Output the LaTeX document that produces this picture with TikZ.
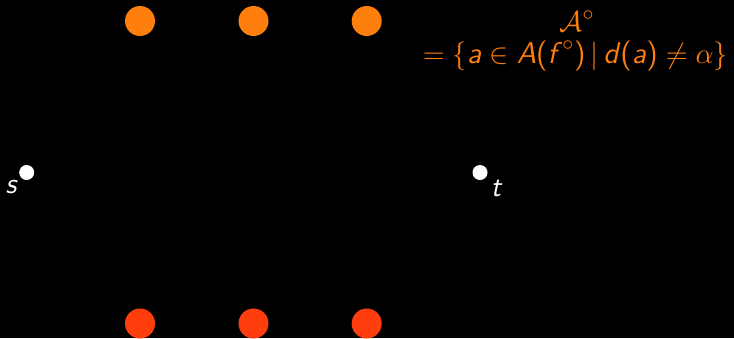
\documentclass[tikz,border=0pt]{standalone}
\usepackage{amsmath}
\definecolor{dotorange}{HTML}{FF7F0E}
\definecolor{dotred}{HTML}{FF3D0D}
\newcommand\vi[1]{\text{\sffamily\itshape #1\/}}
\newcommand\vu[1]{\text{\sffamily #1}}
\tikzset{
  px/.style={x=0.5pt,y=-0.5pt},
  bigdot/.style={circle,inner sep=0pt,minimum size=15pt},
  smalldot/.style={circle,inner sep=0pt,minimum size=7.5pt,fill=white},
  lbl/.style={text=white,inner sep=0pt,font=\fontsize{14.4}{17}\selectfont\sffamily\itshape},
  settext/.style={text=dotorange,anchor=base,inner sep=0pt,font=\fontsize{15}{18}\selectfont}
}
\begin{document}
\begin{tikzpicture}[px]
\fill[black] (0,0) rectangle (734,338);
\useasboundingbox (0,0) rectangle (734,338);
\node[bigdot,fill=dotorange] (o1) at (140,21) {};
\node[bigdot,fill=dotorange] (o2) at (253.5,21) {};
\node[bigdot,fill=dotorange] (o3) at (366.7,21) {};
\node[bigdot,fill=dotred] (r1) at (140,323.5) {};
\node[bigdot,fill=dotred] (r2) at (253.5,323.5) {};
\node[bigdot,fill=dotred] (r3) at (366.7,323.5) {};
\node[smalldot] (s) at (26.7,172.5) {};
\node[smalldot] (t) at (480,172.5) {};
\node[lbl,anchor=base] (sl) at (11,193) {s};
\node[lbl,anchor=base] (tl) at (496,196.5) {t};
\node[settext] (set1) at (577,31) {$\mathcal{A}^{\circ}$};
\node[settext] (set2) at (575.5,63)
  {$=\{\vi{a}\in\vi{A}\vu{(}\vi{f}^{\circ}\vu{)}\,|\,\vi{d}\vu{(}\vi{a}\vu{)}\neq\alpha\}$};
\end{tikzpicture}
\end{document}
